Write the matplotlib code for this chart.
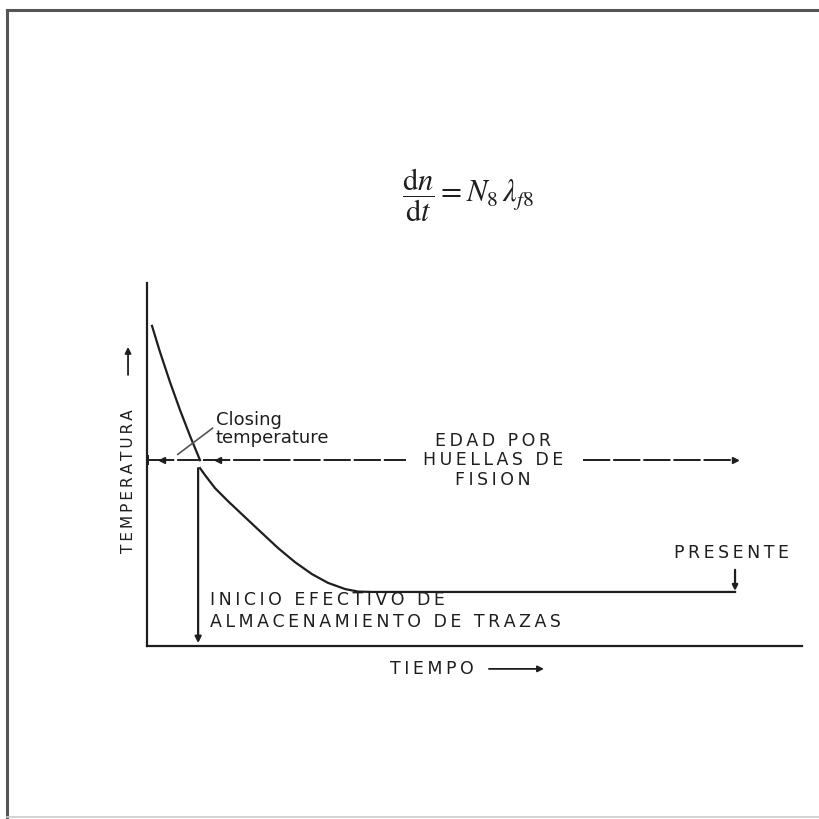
import matplotlib
matplotlib.use("Agg")
import matplotlib.pyplot as plt
from matplotlib.lines import Line2D

plt.rcParams['font.family'] = 'DejaVu Sans'
plt.rcParams['mathtext.fontset'] = 'stix'

INK = '#1e1e1e'

# schematic data: time (0-100) vs temperature (0-100), arbitrary units
t_cool = [0.76, 1.98, 3.51, 5.04, 6.56, 8.09]
T_cool = [88.2, 81.0, 72.7, 65.0, 57.9, 51.2]

t_ret = [8.09, 8.85, 10.38, 12.37, 14.96, 17.56, 20.00, 22.60, 25.19,
         27.63, 30.23, 32.21, 34.35, 89.77]
T_ret = [49.0, 47.1, 43.5, 39.9, 35.5, 31.1, 27.0, 23.1, 19.8,
         17.4, 15.7, 15.0, 14.9, 14.9]

t_close = 7.8          # inicio efectivo de almacenamiento
T_close = 51.2         # closing temperature
t_present = 89.77

age_left = [0.0, 7.9]
age_mid = [8.6, 39.5]
age_right = [66.6, t_present]


def spaced(s):
    # letras separadas como en el rotulado original
    return '\n'.join('\u2009'.join(line) for line in s.split('\n'))


fig = plt.figure(figsize=(8.2, 8.19), dpi=100)
fig.patch.set_facecolor('white')

# marco de la figura
fig.add_artist(Line2D([0.0085, 1.0], [0.9878, 0.9878], color='#555555', lw=2.2))
fig.add_artist(Line2D([0.0085, 0.0085], [0.0, 0.9878], color='#555555', lw=2.2))
fig.add_artist(Line2D([0.0085, 1.0], [0.0025, 0.0025], color='#cccccc', lw=1.2))

ax = fig.add_axes([0.1793, 0.2112, 0.7988, 0.4432])
ax.set_xlim(0, 100)
ax.set_ylim(0, 100)
ax.set_xticks([])
ax.set_yticks([])
for s in ['top', 'right']:
    ax.spines[s].set_visible(False)
for s in ['left', 'bottom']:
    ax.spines[s].set_color(INK)
    ax.spines[s].set_linewidth(1.6)

# curva de enfriamiento
ax.plot(t_cool, T_cool, color=INK, lw=1.6, clip_on=False, solid_joinstyle='round')
ax.plot(t_ret, T_ret, color=INK, lw=1.6, clip_on=False, solid_joinstyle='round')

# linea vertical: inicio de almacenamiento
ax.annotate('', xy=(t_close, 0.8), xytext=(t_close, T_ret[0]),
            arrowprops=dict(arrowstyle='-|>', color=INK, lw=1.6,
                            mutation_scale=9, shrinkA=0, shrinkB=0))

# linea de la edad por huellas de fision
dash = (0, (14, 1.5))
ax.plot(age_left, [T_close, T_close], color=INK, lw=1.4, ls=dash, clip_on=False)
ax.plot(age_mid, [T_close, T_close], color=INK, lw=1.4, ls=dash)
ax.plot(age_right, [T_close, T_close], color=INK, lw=1.4, ls=dash)
ax.plot([0.2], [T_close], marker='|', ms=7, color=INK, mew=1.4, clip_on=False)
ax.plot([2.3, 10.9], [T_close, T_close], marker='<', ms=4.5, color=INK, ls='none')
ax.plot([t_present], [T_close], marker='>', ms=5, color=INK, ls='none')

ax.text(52.8, T_close, spaced('EDAD POR\nHUELLAS DE\nFISION'), ha='center', va='center',
        fontsize=12.5, color=INK, linespacing=1.1)

# closing temperature
ax.text(10.5, 59.8, 'Closing\ntemperature', ha='left', va='center',
        fontsize=13, color=INK, linespacing=0.95)
ax.plot([10.0, 4.7], [60.0, 52.8], color='#555555', lw=1.2)

# presente
ax.text(89.2, 25.6, spaced('PRESENTE'), ha='center', va='center', fontsize=12.5, color=INK)
ax.annotate('', xy=(t_present, T_ret[-1] + 0.3), xytext=(t_present, 21.0),
            arrowprops=dict(arrowstyle='-|>', color=INK, lw=1.6,
                            mutation_scale=8, shrinkA=0, shrinkB=0))

ax.text(9.6, 9.6, spaced('INICIO EFECTIVO DE\nALMACENAMIENTO DE TRAZAS'),
        ha='left', va='center', fontsize=12.5, color=INK, linespacing=1.3)

# etiquetas de los ejes
ax.text(37.1, -6.3, spaced('TIEMPO'), ha='left', va='center', fontsize=12.5,
        color=INK, clip_on=False)
ax.annotate('', xy=(60.6, -6.3), xytext=(52.2, -6.3), annotation_clip=False,
            arrowprops=dict(arrowstyle='-|>', color=INK, lw=1.3,
                            mutation_scale=9, shrinkA=0, shrinkB=0))

ax.text(-2.9, 45.5, spaced('TEMPERATURA'), ha='center', va='center', rotation=90,
        fontsize=11, color=INK, clip_on=False)
ax.annotate('', xy=(-2.9, 82.4), xytext=(-2.9, 74.7), annotation_clip=False,
            arrowprops=dict(arrowstyle='-|>', color=INK, lw=1.3,
                            mutation_scale=9, shrinkA=0, shrinkB=0))

# ecuacion
ax.text(48.9, 124.2, r'$\dfrac{\mathrm{d}n}{\mathrm{d}t} = N_8\,\lambda_{f8}$',
        ha='center', va='center', fontsize=22, color=INK, clip_on=False)

fig.savefig('out.png', dpi=100, facecolor='white')
